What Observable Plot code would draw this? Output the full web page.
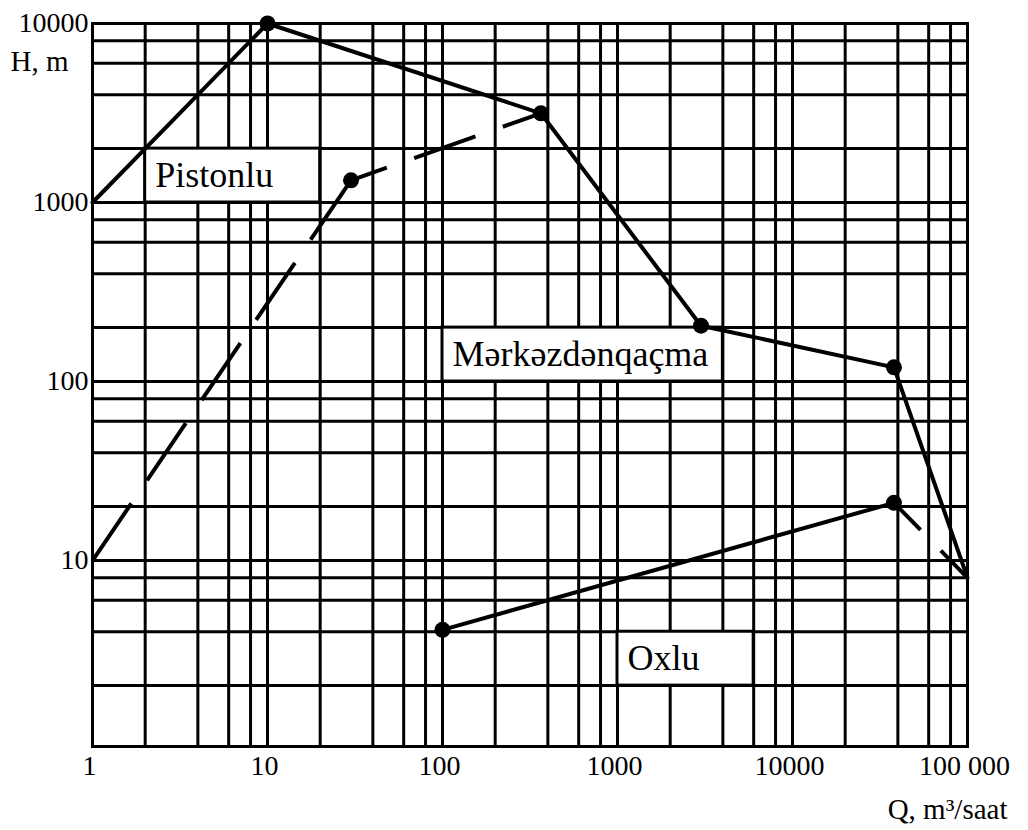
<!DOCTYPE html>
<html>
<head>
<meta charset="utf-8">
<script src="https://cdn.jsdelivr.net/npm/d3@7"></script>
<script src="https://cdn.jsdelivr.net/npm/@observablehq/plot@0.6"></script>
<style>
  body { margin: 0; background: #fff; }
  svg { display: block; }
</style>
</head>
<body>
<div id="chart"></div>
<script>
// Axis ticks
const qTicks = [1, 10, 100, 1000, 10000, 100000];
const qTickLabels = ["1", "10", "100", "1000", "10000", "100 000"];
const hTicks = [10, 100, 1000, 10000];
const hTickLabels = ["10", "100", "1000", "10000"];

// Grid lines of the log paper
const qGrid = [1, 2, 4, 6, 8, 10, 20, 40, 60, 80, 100, 200, 400, 600, 800,
  1000, 2000, 4000, 6000, 8000, 10000, 20000, 40000, 60000, 80000, 100000];
const hGrid = [2, 4, 6, 8, 10, 20, 40, 60, 80, 100, 200, 400, 600, 800,
  1000, 2000, 4000, 6000, 8000, 10000];

// Upper solid boundary (Pistonlu / Mərkəzdənqaçma)
const upperQ = [1, 10, 365, 3000, 38000, 100000];
const upperH = [1000, 10000, 3150, 205, 120, 8];

// Dashed boundary (lower Pistonlu)
const dashAQ = [1, 30];
const dashAH = [10, 1330];
const dashBQ = [30, 365];
const dashBH = [1330, 3150];

// Oxlu solid boundary and its dashed end
const oxluQ = [100, 38000];
const oxluH = [4.1, 21];
const dashCQ = [38000, 100000];
const dashCH = [21, 8];

// Marked points
const dotQ = [10, 365, 3000, 38000, 30, 100, 38000];
const dotH = [10000, 3150, 205, 120, 1330, 4.1, 21];

// Region labels and their boxes (grid cells)
const labelNames = ["Pistonlu", "Mərkəzdənqaçma", "Oxlu"];
const boxQ1 = [2, 100, 1000];
const boxQ2 = [20, 4000, 6000];
const boxH1 = [1000, 100, 2];
const boxH2 = [2000, 200, 4];

const toPts = (qs, hs) => qs.map((q, i) => ({q, h: hs[i]}));
const boxes = labelNames.map((name, i) => ({name, q1: boxQ1[i], q2: boxQ2[i], h1: boxH1[i], h2: boxH2[i]}));
const qLab = new Map(qTicks.map((d, i) => [d, qTickLabels[i]]));
const hLab = new Map(hTicks.map((d, i) => [d, hTickLabels[i]]));

const font = "'Liberation Serif', 'Times New Roman', serif";
const lineStyle = {x: "q", y: "h", stroke: "#000", strokeWidth: 4, strokeLinecap: "round", strokeLinejoin: "round"};

const chart = Plot.plot({
  width: 1028,
  height: 830,
  marginLeft: 92,
  marginRight: 61,
  marginTop: 23,
  marginBottom: 84,
  style: {fontFamily: font, background: "#fff", color: "#000", fontSize: "28px"},
  x: {type: "log", domain: [1, 100000]},
  y: {type: "log", domain: [0.914, 10000]},
  marks: [
    Plot.ruleX(qGrid, {stroke: "#000", strokeWidth: 3}),
    Plot.ruleY(hGrid, {stroke: "#000", strokeWidth: 3}),
    Plot.frame({stroke: "#000", strokeWidth: 3}),
    Plot.rect(boxes, {x1: "q1", x2: "q2", y1: "h1", y2: "h2", fill: "#fff", stroke: "#000", strokeWidth: 3}),
    Plot.text(boxes, {x: "q1", y: d => Math.sqrt(d.h1 * d.h2), text: "name", textAnchor: "start",
      lineAnchor: "middle", dx: 10, fontSize: 36, fontFamily: font, fill: "#000"}),
    Plot.line(toPts(upperQ, upperH), lineStyle),
    Plot.line(toPts(oxluQ, oxluH), lineStyle),
    Plot.line(toPts(dashAQ, dashAH), {...lineStyle, strokeLinecap: "butt", strokeDasharray: "69,28", strokeDashoffset: 0}),
    Plot.line(toPts(dashBQ, dashBH), {...lineStyle, strokeLinecap: "butt", strokeDasharray: "65,29", strokeDashoffset: 27}),
    Plot.line(toPts(dashCQ, dashCH), {...lineStyle, strokeLinecap: "butt", strokeDasharray: "65,29", strokeDashoffset: 27}),
    Plot.dot(toPts(dotQ, dotH), {x: "q", y: "h", r: 8, fill: "#000", stroke: "none"}),
    Plot.axisX({ticks: qTicks, tickFormat: d => qLab.get(d), tickSize: 0, tickPadding: 9, dx: -3,
      fontSize: 28, label: null, fill: "#000"}),
    Plot.axisY({ticks: hTicks, tickFormat: d => hLab.get(d), tickSize: 0, tickPadding: 4,
      fontSize: 28, label: null, fill: "#000"}),
    Plot.text(["H, m"], {frameAnchor: "top-left", textAnchor: "start", lineAnchor: "bottom",
      dx: -82, dy: 47, fontSize: 29, fontFamily: font, fill: "#000"}),
    Plot.text(["Q, m³/saat"], {frameAnchor: "bottom-right", textAnchor: "end", lineAnchor: "bottom",
      dx: 40, dy: 72, fontSize: 29, fontFamily: font, fill: "#000"})
  ]
});
document.getElementById("chart").appendChild(chart);
</script>
</body>
</html>
